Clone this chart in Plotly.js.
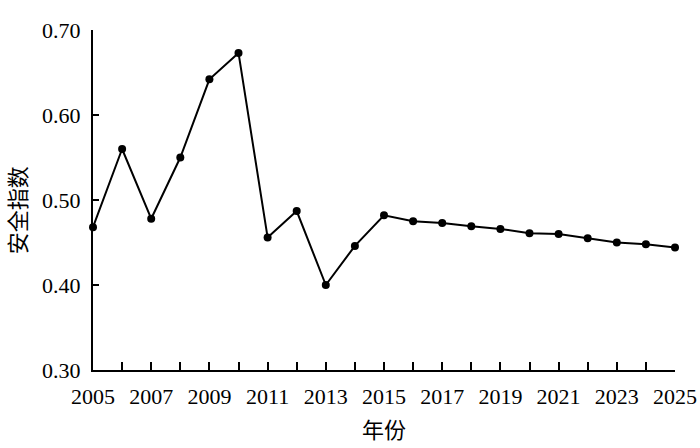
<!DOCTYPE html>
<html>
<head>
<meta charset="utf-8">
<script src="https://cdn.plot.ly/plotly-3.0.1.min.js"></script>
<style>html,body{margin:0;padding:0;background:#fff;}#chart{width:700px;height:448px;}</style>
</head>
<body>
<div id="chart"></div>
<script>
const years = [2005,2006,2007,2008,2009,2010,2011,2012,2013,2014,2015,2016,2017,2018,2019,2020,2021,2022,2023,2024,2025];
const safetyIndex = [0.468,0.560,0.478,0.550,0.642,0.673,0.456,0.487,0.400,0.446,0.482,0.475,0.473,0.469,0.466,0.461,0.460,0.455,0.450,0.448,0.444];
const xTickLabels = years.map(y => (y % 2 === 1 ? String(y) : ''));
const yTickVals = [0.3,0.4,0.5,0.6,0.7];
const xTitle = '年份';
const yTitle = '安全指数';

const fontFam = '"Liberation Serif", "Times New Roman", "Noto Sans CJK SC", serif';

Plotly.newPlot('chart', [{
  x: years,
  y: safetyIndex,
  type: 'scatter',
  mode: 'lines+markers',
  line: {color: '#000', width: 2},
  marker: {color: '#000', size: 8},
  cliponaxis: false,
  showlegend: false
}], {
  width: 700, height: 448,
  margin: {l: 93, r: 25, t: 30, b: 78},
  paper_bgcolor: '#fff', plot_bgcolor: '#fff',
  font: {family: fontFam, color: '#000', size: 22},
  xaxis: {
    range: [2005, 2025],
    tickmode: 'array', tickvals: years, ticktext: xTickLabels,
    ticks: 'inside', ticklen: 8, tickwidth: 2, tickcolor: '#000',
    showline: true, linewidth: 2, linecolor: '#000',
    showgrid: false, zeroline: false,
    tickfont: {family: fontFam, size: 22, color: '#000'},
    ticklabelstandoff: 6,
    title: {text: xTitle, font: {family: fontFam, size: 22, color: '#000'}, standoff: 14}
  },
  yaxis: {
    range: [0.3, 0.7],
    tickmode: 'array', tickvals: yTickVals, tickformat: '.2f',
    ticks: 'inside', ticklen: 6, tickwidth: 2, tickcolor: '#000',
    showline: true, linewidth: 2, linecolor: '#000',
    showgrid: false, zeroline: false,
    tickfont: {family: fontFam, size: 22, color: '#000'},
    ticklabelstandoff: 6
  },
  annotations: [{
    text: yTitle, textangle: -90, showarrow: false,
    xref: 'paper', yref: 'paper', x: 0, y: 0.47,
    xanchor: 'center', yanchor: 'middle', xshift: -75,
    font: {family: fontFam, size: 22, color: '#000'}
  }]
}, {displayModeBar: false, staticPlot: true});
</script>
</body>
</html>
